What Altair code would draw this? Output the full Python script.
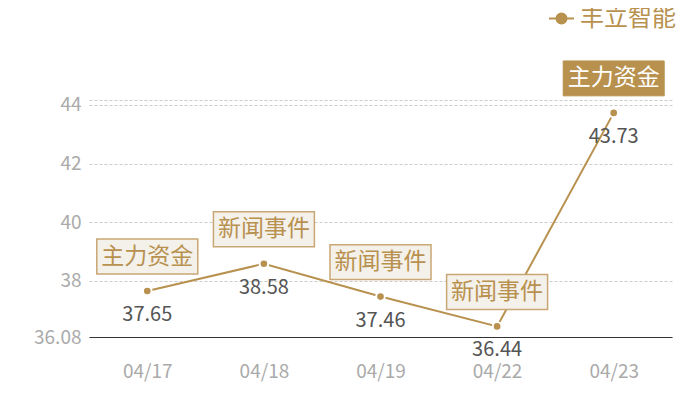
import altair as alt
import pandas as pd

dates = ["04/17", "04/18", "04/19", "04/22", "04/23"]
prices = [37.65, 38.58, 37.46, 36.44, 43.73]
events = ["主力资金", "新闻事件", "新闻事件", "新闻事件", "主力资金"]
highlight = [False, False, False, False, True]
series_name = "丰立智能"
y_min, y_max = 36.08, 44.17
y_ticks = [36.08, 38, 40, 42, 44, 44.17]

GOLD = "#b8914f"
FONT = "Noto Sans CJK SC"

df = pd.DataFrame({
    "date": dates,
    "price": prices,
    "event": events,
    "hl": highlight,
    "series": [series_name] * len(dates),
})

x = alt.X("date:N", sort=dates,
          scale=alt.Scale(type="point", padding=0.5),
          axis=alt.Axis(title=None, labelAngle=0, ticks=False, grid=False,
                        domain=True, domainColor="#333333", domainWidth=1,
                        labelColor="#aaaaaa", labelFontSize=19, labelFont=FONT,
                        labelPadding=25))
y = alt.Y("price:Q",
          scale=alt.Scale(domain=[y_min, y_max], nice=False, zero=False),
          axis=alt.Axis(title=None, values=y_ticks, ticks=False, domain=False,
                        grid=True, gridColor="#cccccc", gridDash=[3, 2], gridWidth=1,
                        labelColor="#aaaaaa", labelFontSize=19, labelFont=FONT,
                        labelPadding=8,
                        labelExpr="datum.value > 44.1 ? '' : toString(datum.value)"))

base = alt.Chart(df)

legend_symbol = "M-1,0L-0.4,0M0.4,0L1,0M0.4,0A0.4,0.4,0,1,1,-0.4,0A0.4,0.4,0,1,1,0.4,0Z"

line = base.mark_line(strokeWidth=2).encode(
    x=x, y=y,
    color=alt.Color("series:N", scale=alt.Scale(range=[GOLD]),
                    legend=alt.Legend(title=None, orient="none", legendX=459, legendY=-95,
                                      symbolType=legend_symbol, symbolSize=625,
                                      symbolStrokeWidth=2, symbolFillColor=GOLD,
                                      symbolStrokeColor=GOLD,
                                      labelFontSize=24, labelFont=FONT, labelColor=GOLD,
                                      labelOffset=5)),
)

points = base.mark_point(filled=True, size=75, fill=GOLD, stroke="white",
                         strokeWidth=2, opacity=1).encode(x=x, y=y)

values = base.mark_text(dy=24, fontSize=20, font=FONT, color="#555555").encode(
    x=x, y=y, text=alt.Text("price:Q", format=".2f"))

box_shape = "M-1,-0.345L1,-0.345L1,0.345L-1,0.345Z"
boxes_light = base.transform_filter("!datum.hl").mark_point(
    shape=box_shape, size=101 * 101, filled=True, fill="#f4f0ea",
    stroke="#c9a774", strokeWidth=1.5, opacity=1, yOffset=-34.5).encode(x=x, y=y)
boxes_dark = base.transform_filter("datum.hl").mark_point(
    shape=box_shape, size=101 * 101, filled=True, fill=GOLD,
    stroke=GOLD, strokeWidth=1, opacity=1, yOffset=-34.5).encode(x=x, y=y)

labels_light = base.transform_filter("!datum.hl").mark_text(
    fontSize=23, font=FONT, color=GOLD, yOffset=-34.5, baseline="middle").encode(
    x=x, y=y, text="event:N")
labels_dark = base.transform_filter("datum.hl").mark_text(
    fontSize=23, font=FONT, color="white", yOffset=-34.5, baseline="middle").encode(
    x=x, y=y, text="event:N")

chart = alt.layer(line, points, values, boxes_light, boxes_dark, labels_light, labels_dark).properties(
    width=583, height=237,
    background="white",
    autosize=alt.AutoSizeParams(type="none"),
    padding={"left": 81, "top": 92, "right": 20, "bottom": 50},
).configure_view(stroke=None)

chart.save("out.html", embed_options={"renderer": "svg", "actions": False})
